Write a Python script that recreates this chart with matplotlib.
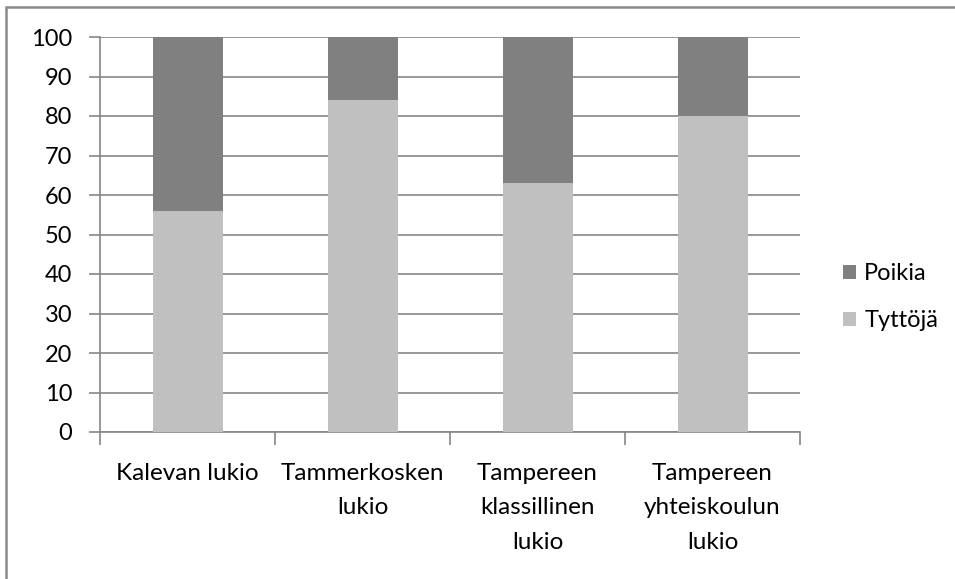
import matplotlib.pyplot as plt
from matplotlib.patches import Rectangle

schools = ["Kalevan lukio", "Tammerkosken\nlukio", "Tampereen\nklassillinen\nlukio",
           "Tampereen\nyhteiskoulun\nlukio"]
tyttoja = [56, 84, 63, 80]
poikia = [44, 16, 37, 20]
yticks = [0, 10, 20, 30, 40, 50, 60, 70, 80, 90, 100]

plt.rcParams['font.family'] = ['Lato', 'DejaVu Sans']
grey = "#868686"

fig = plt.figure(figsize=(9.55, 5.79), dpi=100)
ax = fig.add_axes([100 / 955, 147 / 579, 700 / 955, 395 / 579])

x = range(len(schools))
b1 = ax.bar(x, tyttoja, width=0.4, color="#c0c0c0", zorder=3, label="Tyttöjä")
b2 = ax.bar(x, poikia, width=0.4, bottom=tyttoja, color="#808080", zorder=3, label="Poikia")

ax.set_xlim(-0.5, len(schools) - 0.5)
ax.set_ylim(0, 100)
ax.set_yticks(yticks)
ax.yaxis.grid(True, color=grey, lw=1.2, zorder=1)

# labels centred under bars, ticks at category boundaries
ax.set_xticks(list(x))
ax.set_xticklabels(schools, fontsize=17.5, linespacing=1.8, va="top",
                   multialignment="center")
ax.tick_params(axis="x", length=0, pad=22, colors="#000000")
ax.set_xticks([i - 0.5 for i in range(len(schools) + 1)], minor=True)
ax.tick_params(axis="x", which="minor", length=9, color=grey, width=1.2)
ax.tick_params(axis="y", length=8, color=grey, width=1.2, pad=12, labelsize=17)

for s in ["top", "right"]:
    ax.spines[s].set_visible(False)
for s in ["left", "bottom"]:
    ax.spines[s].set_color(grey)
    ax.spines[s].set_linewidth(1.2)

fig.legend(handles=[b2, b1], labels=["Poikia", "Tyttöjä"], loc="center left",
           bbox_to_anchor=(843 / 955, 0.487), frameon=False, fontsize=17,
           handlelength=0.55, handleheight=0.55, handletextpad=0.35,
           labelspacing=1.1, borderpad=0, borderaxespad=0)

# chart area border (only left/top visible in the crop)
fig.patches.append(Rectangle((6 / 955, -0.05), 1.2, 1 - 7 / 579 + 0.05,
                             transform=fig.transFigure, fill=False,
                             edgecolor="#8a8a8a", lw=1.8))

fig.savefig("out.png", dpi=100)
